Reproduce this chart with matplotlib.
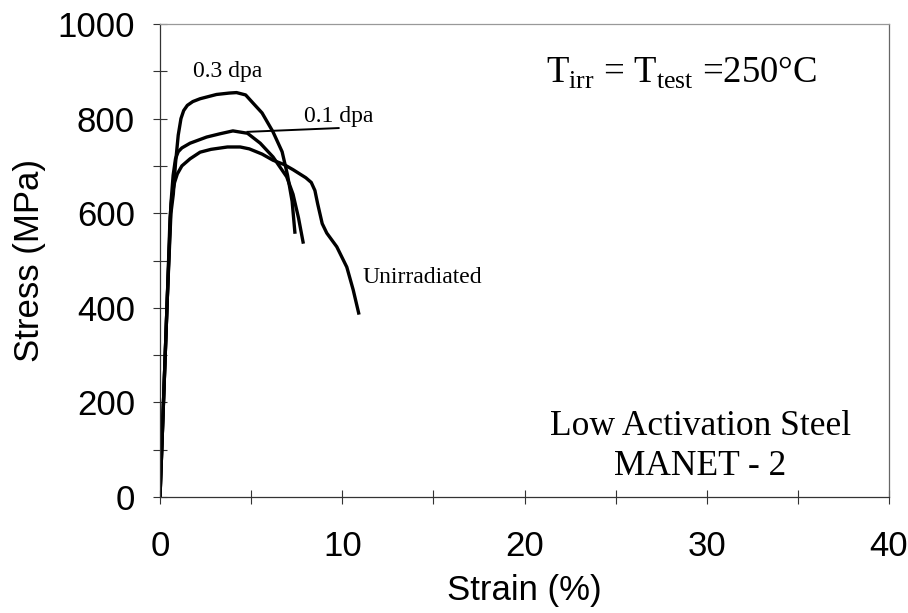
import matplotlib
matplotlib.use('Agg')
import matplotlib.pyplot as plt
from matplotlib.ticker import MultipleLocator

plt.rcParams['mathtext.fontset'] = 'custom'
plt.rcParams['mathtext.rm'] = 'Liberation Serif'

# Stress-strain curves (strain %, stress MPa)
unirr_strain = [0, 0.2, 0.4, 0.55, 0.65, 0.8, 0.95, 1.2, 1.65, 2.2, 2.8, 3.7, 4.4,
                4.9, 5.6, 6.2, 6.8, 7.3, 8.0, 8.3, 8.5, 8.65, 8.9, 9.15, 9.7,
                10.25, 10.6, 10.9]
unirr_stress = [0, 210, 420, 590, 635, 665, 683, 700, 715, 729, 735, 740, 740,
                736, 725, 712, 703, 692, 675, 665, 648, 620, 578, 558, 529,
                486, 438, 389]

dpa01_strain = [0, 0.2, 0.4, 0.6, 0.72, 0.85, 1.0, 1.2, 1.65, 2.56, 3.3, 4.0,
                4.8, 5.5, 6.2, 6.95, 7.3, 7.6, 7.85]
dpa01_stress = [0, 210, 420, 620, 680, 715, 730, 738, 748, 761, 768, 774,
                769, 748, 719, 677, 640, 590, 539]

dpa03_strain = [0, 0.2, 0.4, 0.6, 0.73, 0.85, 1.0, 1.15, 1.3, 1.5, 1.8, 2.2,
                3.1, 3.8, 4.2, 4.7, 5.1, 5.6, 6.2, 6.7, 7.0, 7.25, 7.4]
dpa03_stress = [0, 210, 420, 600, 640, 705, 765, 800, 817, 828, 836, 842,
                851, 854, 855, 850, 833, 812, 772, 730, 680, 625, 560]

# leader line for the "0.1 dpa" label
leader_x = [4.8, 9.8]
leader_y = [772, 780]

x_ticks = [0, 10, 20, 30, 40]
y_ticks = [0, 200, 400, 600, 800, 1000]

fig = plt.figure(figsize=(9.08, 6.13), dpi=100)
ax = fig.add_axes([160 / 908, 116 / 613, 729 / 908, 473 / 613])

lw = 2.4
ax.plot(unirr_strain, unirr_stress, color='black', linewidth=lw)
ax.plot(dpa01_strain, dpa01_stress, color='black', linewidth=lw)
ax.plot(dpa03_strain, dpa03_stress, color='black', linewidth=lw)
ax.plot(leader_x, leader_y, color='black', linewidth=1.4)

ax.set_xlim(0, 40)
ax.set_ylim(0, 1000)
ax.set_xticks(x_ticks)
ax.set_yticks(y_ticks)
ax.xaxis.set_minor_locator(MultipleLocator(5))
ax.yaxis.set_minor_locator(MultipleLocator(100))

sans = 'Liberation Sans'
ax.tick_params(which='both', direction='inout', length=10, width=0.8,
               colors='#333333')
ax.tick_params(axis='x', which='major', labelsize=25, pad=19,
               labelcolor='black')
ax.tick_params(axis='y', which='major', labelsize=25, pad=13,
               labelcolor='black')
for lab in ax.get_xticklabels() + ax.get_yticklabels():
    lab.set_fontfamily(sans)

ax.set_xlabel('Strain (%)', fontsize=25, fontfamily=sans, labelpad=8)
ax.set_ylabel('Stress (MPa)', fontsize=25, fontfamily=sans, labelpad=8)

ax.spines['left'].set_color('#333333')
ax.spines['bottom'].set_color('#333333')
ax.spines['top'].set_color('#999999')
ax.spines['right'].set_color('#666666')
for s in ax.spines.values():
    s.set_linewidth(0.9)

serif = 'Liberation Serif'
ax.text(1.8, 888, '0.3 dpa', fontsize=17, fontfamily=serif)
ax.text(7.9, 793, '0.1 dpa', fontsize=17, fontfamily=serif)
ax.text(11.1, 452, 'Unirradiated', fontsize=17, fontfamily=serif)
ax.text(21.2, 875, r'T$_{\rm irr}$ = T$_{\rm test}$ =250°C',
        fontsize=26.5, fontfamily=serif)
ax.text(29.65, 131, 'Low Activation Steel', fontsize=25.5, fontfamily=serif,
        ha='center')
ax.text(29.65, 46.5, 'MANET - 2', fontsize=25.5, fontfamily=serif,
        ha='center')

fig.savefig('out.png', dpi=100)
